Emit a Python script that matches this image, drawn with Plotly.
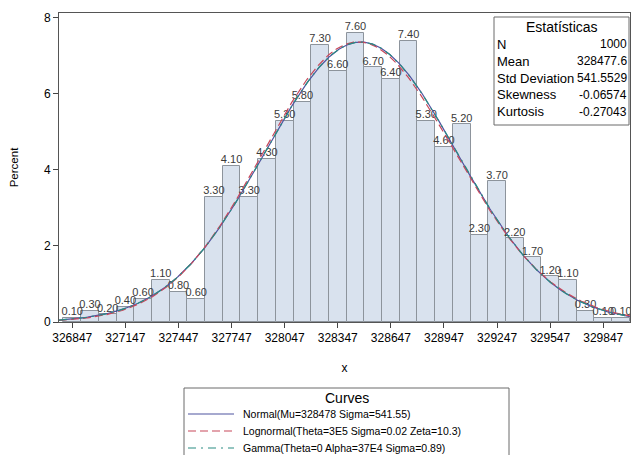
import math
import numpy as np
import plotly.graph_objects as go

# ---------------- data ----------------
bin_start = 326847          # midpoint of first bin
bin_width = 100
percents = [0.10, 0.30, 0.20, 0.40, 0.60, 1.10, 0.80, 0.60,
            3.30, 4.10, 3.30, 4.30, 5.30, 5.80, 7.30, 6.60,
            7.60, 6.70, 6.40, 7.40, 5.30, 4.60, 5.20, 2.30,
            3.70, 2.20, 1.70, 1.20, 1.10, 0.30, 0.10, 0.10]
x_tick_vals = [326847, 327147, 327447, 327747, 328047, 328347,
               328647, 328947, 329247, 329547, 329847]
y_tick_vals = [0, 2, 4, 6, 8]

n_obs = 1000
mean = 328477.6
std = 541.5529
skew = -0.06574
kurt = -0.27043

stats_labels = ["N", "Mean", "Std Deviation", "Skewness", "Kurtosis"]
stats_values = ["1000", "328477.6", "541.5529", "-0.06574", "-0.27043"]

legend_labels = ["Normal(Mu=328478 Sigma=541.55)",
                 "Lognormal(Theta=3E5 Sigma=0.02 Zeta=10.3)",
                 "Gamma(Theta=0 Alpha=37E4 Sigma=0.89)"]
curve_colors = ["#4f54a0", "#c8485a", "#2a8c82"]
curve_dashes = ["solid", "8px,4px", "8px,5px,2px,5px"]

# ---------------- layout geometry ----------------
W, H = 631, 455
PL, PR, PT, PB = 59, 630, 13, 322
x_range = [326772, 329998]
y_range = [0, 8.13]

def px(xp):
    return (xp - PL) / (PR - PL)

def py(yp):
    return (PB - yp) / (PB - PT)

mids = [bin_start + i * bin_width for i in range(len(percents))]

# ---------------- fitted curves ----------------
xs = np.linspace(x_range[0], x_range[1], 600)
scale = 100 * bin_width

normal_y = scale * np.exp(-0.5 * ((xs - mean) / std) ** 2) / (std * math.sqrt(2 * math.pi))

theta_ln = 300000.0
m_ln = mean - theta_ln
sig_ln = math.sqrt(math.log(1 + (std / m_ln) ** 2))
zeta_ln = math.log(m_ln) - sig_ln ** 2 / 2
z = xs - theta_ln
logn_y = scale * np.exp(-0.5 * ((np.log(z) - zeta_ln) / sig_ln) ** 2) / (z * sig_ln * math.sqrt(2 * math.pi))

alpha_g = (mean / std) ** 2
sig_g = std ** 2 / mean
logpdf = (alpha_g - 1) * np.log(xs) - xs / sig_g - alpha_g * math.log(sig_g) - math.lgamma(alpha_g)
gamma_y = scale * np.exp(logpdf)

regular = "Liberation Sans, Arial, sans-serif"

fig = go.Figure()
fig.add_trace(go.Bar(
    x=mids, y=percents, width=bin_width,
    marker=dict(color="#d9e2ee", line=dict(color="#8d949c", width=1)),
    showlegend=False, hoverinfo="x+y"))

fig.add_trace(go.Scatter(
    x=mids, y=percents, mode="text",
    text=["%.2f" % v for v in percents],
    textposition="top center",
    textfont=dict(family=regular, size=11, color="#3a3a3a"),
    showlegend=False, hoverinfo="skip", cliponaxis=False))

for yy, col, dsh in zip([normal_y, logn_y, gamma_y], curve_colors, curve_dashes):
    fig.add_trace(go.Scatter(x=xs, y=yy, mode="lines",
                             line=dict(color=col, width=1.2, dash=dsh),
                             showlegend=False, hoverinfo="skip"))

shapes = []
annotations = []

# statistics inset
sb_l, sb_r, sb_t, sb_b = 494, 629, 17, 125
shapes.append(dict(type="rect", xref="paper", yref="paper",
                   x0=px(sb_l), x1=px(sb_r), y0=py(sb_b), y1=py(sb_t),
                   line=dict(color="#6a6a6a", width=1), fillcolor="white", layer="above"))
annotations.append(dict(xref="paper", yref="paper", x=px((sb_l + sb_r) / 2), y=py(27),
                        text="Estatísticas", showarrow=False, xanchor="center", yanchor="middle",
                        font=dict(family=regular, size=14, color="black")))
for i, (lab, val) in enumerate(zip(stats_labels, stats_values)):
    yrow = 44 + i * 17
    annotations.append(dict(xref="paper", yref="paper", x=px(sb_l + 1), y=py(yrow),
                            text=lab, showarrow=False, xanchor="left", yanchor="middle",
                            font=dict(family=regular, size=13, color="black")))
    annotations.append(dict(xref="paper", yref="paper", x=px(sb_r), y=py(yrow),
                            text=val, showarrow=False, xanchor="right", yanchor="middle",
                            font=dict(family=regular, size=12, color="black")))

# curves legend
lg_l, lg_r, lg_t, lg_b = 184, 509, 388, 470
shapes.append(dict(type="rect", xref="paper", yref="paper",
                   x0=px(lg_l), x1=px(lg_r), y0=py(lg_b), y1=py(lg_t),
                   line=dict(color="#6a6a6a", width=1), fillcolor="rgba(0,0,0,0)"))
annotations.append(dict(xref="paper", yref="paper", x=px(347), y=py(398),
                        text="Curves", showarrow=False, xanchor="center", yanchor="middle",
                        font=dict(family=regular, size=14, color="black")))
for i, (lab, col, dsh) in enumerate(zip(legend_labels, curve_colors, curve_dashes)):
    yrow = 414 + i * 17
    shapes.append(dict(type="line", xref="paper", yref="paper",
                       x0=px(188), x1=px(234), y0=py(yrow), y1=py(yrow),
                       line=dict(color=col, width=1.2, dash=dsh)))
    annotations.append(dict(xref="paper", yref="paper", x=px(241), y=py(yrow),
                            text=lab, showarrow=False, xanchor="left", yanchor="middle",
                            font=dict(family=regular, size=10.5, color="black")))

fig.update_layout(
    width=W, height=H,
    margin=dict(l=PL, r=W - PR, t=PT, b=H - PB, autoexpand=False),
    paper_bgcolor="white", plot_bgcolor="white",
    bargap=0,
    shapes=shapes, annotations=annotations,
    showlegend=False,
    xaxis=dict(range=x_range, tickvals=x_tick_vals, ticktext=[str(v) for v in x_tick_vals],
               ticks="outside", ticklen=5, tickcolor="#444", showgrid=False, zeroline=False,
               showline=True, linecolor="#555", linewidth=1, mirror=True, automargin=False,
               tickfont=dict(family=regular, size=12, color="black"),
               title=dict(text="x", font=dict(family=regular, size=12, color="black"), standoff=19)),
    yaxis=dict(range=y_range, tickvals=y_tick_vals, ticks="outside", ticklen=5, tickcolor="#444",
               showgrid=False, zeroline=False, showline=True, linecolor="#555", linewidth=1, mirror=True,
               automargin=False,
               tickfont=dict(family=regular, size=12, color="black"),
               title=dict(text="Percent", font=dict(family=regular, size=11.5, color="black"), standoff=22)),
)

fig.write_html("out.html", config={"displayModeBar": False},
               post_script="document.body.style.margin='0';document.body.style.overflow='hidden';")
